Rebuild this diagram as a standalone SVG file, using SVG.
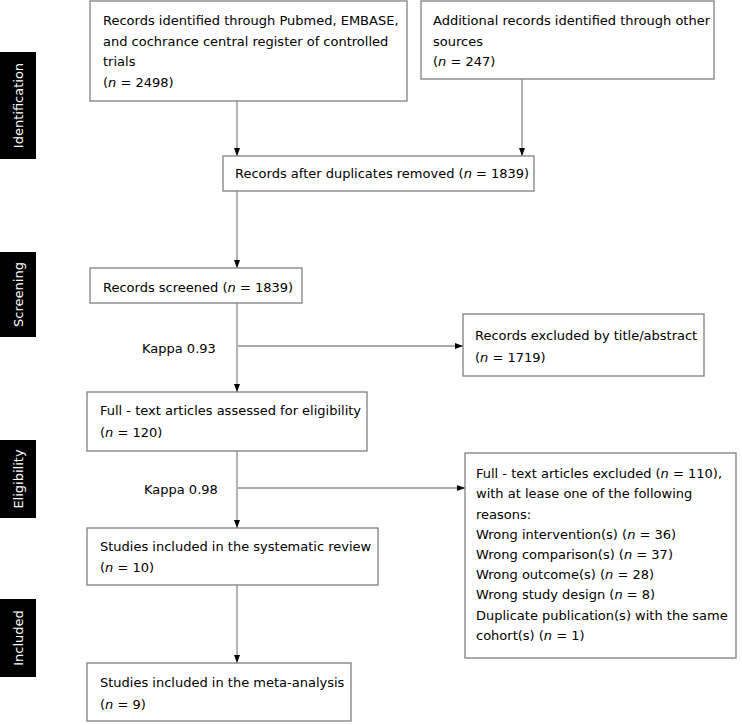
<svg xmlns="http://www.w3.org/2000/svg" width="742" height="725" viewBox="0 0 742 725">
<style>
.box{fill:#fff;stroke:#7f7f7f;stroke-width:1.3}
.t{font-family:"DejaVu Sans",Verdana,sans-serif;font-size:13px;fill:#000}
.i{font-style:italic}
.side{fill:#000}
.st{font-family:"DejaVu Sans",Verdana,sans-serif;font-size:13px;fill:#fff;text-anchor:middle}
.c{stroke:#8c8c8c;stroke-width:1.3;fill:none}
</style>
<defs>
<marker id="ah" viewBox="0 0 8 6" refX="8" refY="3" markerWidth="8" markerHeight="6" markerUnits="userSpaceOnUse" orient="auto">
<path d="M0,0 L8,3 L0,6 z" fill="#000"/>
</marker>
</defs>
<rect width="742" height="725" fill="#fff"/>
<g id="side-identification"><rect class="side" x="0" y="52" width="36" height="107"/><text class="st" transform="translate(23,105.5) rotate(-90)">Identification</text></g>
<g id="side-screening"><rect class="side" x="0" y="252" width="36" height="85"/><text class="st" transform="translate(23,294.5) rotate(-90)">Screening</text></g>
<g id="side-eligibility"><rect class="side" x="0" y="440" width="36" height="78"/><text class="st" transform="translate(23,479) rotate(-90)">Eligibility</text></g>
<g id="side-included"><rect class="side" x="0" y="599" width="36" height="78"/><text class="st" transform="translate(23,638) rotate(-90)">Included</text></g>
<g id="connectors">
<line class="c" x1="237" y1="101" x2="237" y2="156" marker-end="url(#ah)"/>
<line class="c" x1="522" y1="79" x2="522" y2="156" marker-end="url(#ah)"/>
<line class="c" x1="237" y1="191" x2="237" y2="268" marker-end="url(#ah)"/>
<line class="c" x1="237" y1="303" x2="237" y2="392" marker-end="url(#ah)"/>
<line class="c" x1="238" y1="346" x2="463" y2="346" marker-end="url(#ah)"/>
<line class="c" x1="237" y1="451" x2="237" y2="528" marker-end="url(#ah)"/>
<line class="c" x1="238" y1="488" x2="465" y2="488" marker-end="url(#ah)"/>
<line class="c" x1="237" y1="585" x2="237" y2="663" marker-end="url(#ah)"/>
</g>
<g id="records-db"><rect class="box" x="90" y="1" width="317" height="100"/>
<text class="t" x="103" y="25">Records identified through Pubmed, EMBASE,</text>
<text class="t" x="103" y="45.5">and cochrance central register of controlled</text>
<text class="t" x="103" y="66">trials</text>
<text class="t" x="103" y="86.5">(<tspan class="i">n</tspan> = 2498)</text></g>
<g id="records-other"><rect class="box" x="421" y="1" width="293" height="78"/>
<text class="t" x="433" y="25">Additional records identified through other</text>
<text class="t" x="433" y="45.5">sources</text>
<text class="t" x="433" y="66">(<tspan class="i">n</tspan> = 247)</text></g>
<g id="dedup"><rect class="box" x="223" y="156" width="311" height="35"/>
<text class="t" x="235" y="178">Records after duplicates removed (<tspan class="i">n</tspan> = 1839)</text></g>
<g id="screened"><rect class="box" x="90" y="268" width="212" height="35"/>
<text class="t" x="103" y="292">Records screened (<tspan class="i">n</tspan> = 1839)</text></g>
<text class="t" x="142" y="353">Kappa 0.93</text>
<g id="excluded-title"><rect class="box" x="463" y="314" width="241" height="62"/>
<text class="t" x="475" y="340">Records excluded by title/abstract</text>
<text class="t" x="475" y="362">(<tspan class="i">n</tspan> = 1719)</text></g>
<g id="fulltext"><rect class="box" x="87" y="392" width="280" height="59"/>
<text class="t" x="100" y="415">Full - text articles assessed for eligibility</text>
<text class="t" x="100" y="437">(<tspan class="i">n</tspan> = 120)</text></g>
<text class="t" x="144" y="494">Kappa 0.98</text>
<g id="fulltext-excluded"><rect class="box" x="465" y="453" width="271" height="205"/>
<text class="t" x="476" y="478">Full - text articles excluded (<tspan class="i">n</tspan> = 110),</text>
<text class="t" x="476" y="498">with at lease one of the following</text>
<text class="t" x="476" y="518.5">reasons:</text>
<text class="t" x="476" y="539">Wrong intervention(s) (<tspan class="i">n</tspan> = 36)</text>
<text class="t" x="476" y="559">Wrong comparison(s) (<tspan class="i">n</tspan> = 37)</text>
<text class="t" x="476" y="579">Wrong outcome(s) (<tspan class="i">n</tspan> = 28)</text>
<text class="t" x="476" y="599">Wrong study design (<tspan class="i">n</tspan> = 8)</text>
<text class="t" x="476" y="620">Duplicate publication(s) with the same</text>
<text class="t" x="476" y="640">cohort(s) (<tspan class="i">n</tspan> = 1)</text></g>
<g id="systematic"><rect class="box" x="87" y="528" width="291" height="57"/>
<text class="t" x="100" y="551">Studies included in the systematic review</text>
<text class="t" x="100" y="572">(<tspan class="i">n</tspan> = 10)</text></g>
<g id="meta"><rect class="box" x="87" y="663" width="264" height="58"/>
<text class="t" x="100" y="687">Studies included in the meta-analysis</text>
<text class="t" x="100" y="709">(<tspan class="i">n</tspan> = 9)</text></g>
</svg>
